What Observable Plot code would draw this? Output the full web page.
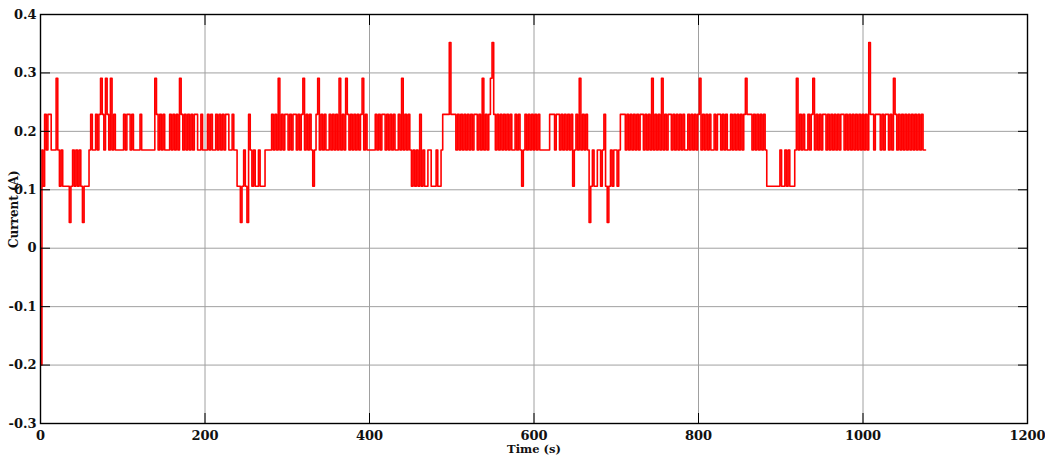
<!DOCTYPE html>
<html><head><meta charset="utf-8">
<script src="https://cdn.jsdelivr.net/npm/d3@7"></script>
<script src="https://cdn.jsdelivr.net/npm/@observablehq/plot@0.6"></script>
<style>html,body{margin:0;padding:0;background:#fff;} #chart svg{display:block;}</style>
</head><body><div id="chart"></div>
<script>
// Axis ticks
const xTicks = [0, 200, 400, 600, 800, 1000, 1200];
const yTicks = [-0.3, -0.2, -0.1, 0, 0.1, 0.2, 0.3, 0.4];
const yTickLabels = ["-0.3", "-0.2", "-0.1", "0", "0.1", "0.2", "0.3", "0.4"];

// Start-up transient (time in s, current in A)
const leadTime = [0.5, 1.5];
const leadCurrent = [0, -0.2];

// Quantised current levels
const levelCodes = ["1", "2", "3", "4", "5", "6"];
const levelCurrent = [0.044, 0.106, 0.168, 0.229, 0.291, 0.352];

// Samples every 2 s from t = 2 s, one level code per sample (groups of 20 s)
const sampleStart = 2;
const sampleStep = 2;
const currentCodeGroups = [
  "3243443335", "3232222123", "2323212223", "4334345435", "4353433333",
  "4344343333", "4333333335", "4343433343", "4343543434", "3434433433",
  "3434334343", "4344334332", "2123214323", "2232223333", "4343534344",
  "3434434345", "3434323453", "4343343434", "3534354343", "4343453433",
  "3334343443", "4343433435", "3434323232", "4232233222", "3223444464",
  "4434343434", "3434434353", "4345643434", "3434343343", "4323434343",
  "4343333334", "4434434343", "4342343534", "3431232233", "2342123233",
  "2344434343", "4343443434", "3534343534", "3443434343", "4334343434",
  "5343434334", "3443434334", "3434343454", "4434343434", "3222222223",
  "2232322235", "3434334345", "3434344343", "4343434434", "3434343434",
  "3436443444", "3434434354", "3434343434", "34343433"
];

const data = [];
leadTime.forEach((t, i) => data.push({t, current: leadCurrent[i]}));
const codes = currentCodeGroups.join("");
for (let i = 0; i < codes.length; i++) {
  data.push({t: sampleStart + sampleStep * i, current: levelCurrent[levelCodes.indexOf(codes[i])]});
}

const chart = Plot.plot({
  width: 1045,
  height: 461,
  marginLeft: 40,
  marginRight: 18,
  marginTop: 14,
  marginBottom: 38,
  style: {fontFamily: "'DejaVu Serif', serif", fontSize: "13px", fontWeight: "bold", background: "#fff", overflow: "visible", color: "#111"},
  x: {domain: [0, 1200]},
  y: {domain: [-0.3, 0.4]},
  marks: [
    Plot.gridX({ticks: xTicks, stroke: "#a0a0a0", strokeOpacity: 1, strokeWidth: 1}),
    Plot.gridY({ticks: yTicks, stroke: "#a0a0a0", strokeOpacity: 1, strokeWidth: 1}),
    Plot.line(data, {x: "t", y: "current", curve: "step", stroke: "#ff0000", strokeWidth: 1.6}),
    Plot.frame({stroke: "#000", strokeWidth: 1.4}),
    // inward tick marks on all four sides
    Plot.axisX({ticks: xTicks, anchor: "bottom", tickSize: 10, dy: -10, tickFormat: () => "", label: null, stroke: "#000"}),
    Plot.axisX({ticks: xTicks, anchor: "top", tickSize: 10, dy: 10, tickFormat: () => "", label: null, stroke: "#000"}),
    Plot.axisY({ticks: yTicks, anchor: "left", tickSize: 10, dx: 10, tickFormat: () => "", label: null, stroke: "#000"}),
    Plot.axisY({ticks: yTicks, anchor: "right", tickSize: 10, dx: -10, tickFormat: () => "", label: null, stroke: "#000"}),
    // tick labels
    Plot.axisX({ticks: xTicks, anchor: "bottom", tickSize: 0, tickPadding: 7, tickFormat: d => String(d), label: null}),
    Plot.axisY({ticks: yTicks, anchor: "left", tickSize: 0, tickPadding: 4, tickFormat: d => yTickLabels[yTicks.indexOf(d)], label: null}),
    // axis titles
    Plot.text(["Time (s)"], {frameAnchor: "bottom", dy: 29, text: d => d, fontSize: 11.5, fontWeight: "bold", fill: "#111"}),
    Plot.text(["Current (A)"], {frameAnchor: "left", dx: -26, dy: 29, rotate: -90, text: d => d, fontSize: 12, fontWeight: "bold", fill: "#111"})
  ]
});
document.getElementById("chart").appendChild(chart);
</script>
</body></html>
